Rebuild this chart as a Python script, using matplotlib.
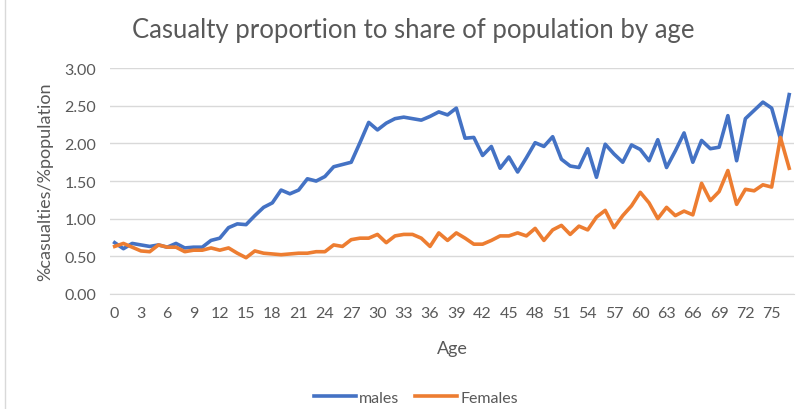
import matplotlib
matplotlib.use("Agg")
import matplotlib.pyplot as plt
from matplotlib.lines import Line2D

# ages 0..77, ratio of casualty share to population share
ages = list(range(78))

males = [0.68, 0.60, 0.67, 0.65, 0.63, 0.65, 0.62, 0.67, 0.61, 0.62,
         0.62, 0.71, 0.74, 0.88, 0.93, 0.92, 1.04, 1.15, 1.21, 1.38,
         1.33, 1.38, 1.53, 1.50, 1.56, 1.69, 1.72, 1.75, 2.01, 2.28,
         2.18, 2.27, 2.33, 2.35, 2.33, 2.31, 2.36, 2.42, 2.38, 2.47,
         2.07, 2.08, 1.84, 1.96, 1.67, 1.82, 1.62, 1.81, 2.01, 1.96,
         2.09, 1.79, 1.70, 1.68, 1.93, 1.55, 1.99, 1.86, 1.75, 1.98,
         1.92, 1.77, 2.05, 1.68, 1.90, 2.14, 1.75, 2.04, 1.93, 1.95,
         2.37, 1.77, 2.33, 2.44, 2.55, 2.47, 2.06, 2.65]

females = [0.63, 0.67, 0.62, 0.57, 0.56, 0.65, 0.62, 0.62, 0.56, 0.58,
           0.58, 0.61, 0.58, 0.61, 0.54, 0.48, 0.57, 0.54, 0.53, 0.52,
           0.53, 0.54, 0.54, 0.56, 0.56, 0.65, 0.63, 0.72, 0.74, 0.74,
           0.79, 0.68, 0.77, 0.79, 0.79, 0.74, 0.63, 0.81, 0.71, 0.81,
           0.74, 0.66, 0.66, 0.71, 0.77, 0.77, 0.81, 0.77, 0.87, 0.71,
           0.85, 0.91, 0.79, 0.90, 0.85, 1.02, 1.11, 0.88, 1.04, 1.17,
           1.35, 1.21, 1.00, 1.15, 1.04, 1.10, 1.05, 1.47, 1.24, 1.36,
           1.64, 1.19, 1.39, 1.37, 1.45, 1.42, 2.08, 1.67]

yticks = [0, 0.5, 1.0, 1.5, 2.0, 2.5, 3.0]

TXT = "#595959"
GRID = "#D9D9D9"
plt.rcParams["font.family"] = ["Lato", "DejaVu Sans"]

fig = plt.figure(figsize=(8.11, 4.10), dpi=100)
ax = fig.add_axes([0.136, 0.281, 0.8425, 0.550])

ax.plot(ages, males, color="#4472C4", lw=2.6, label="males", solid_joinstyle="round")
ax.plot(ages, females, color="#ED7D31", lw=2.6, label="Females", solid_joinstyle="round")

ax.set_xlim(-0.5, 77.5)
ax.set_ylim(0, 3)
ax.set_yticks(yticks)
ax.set_yticklabels([f"{v:.2f}" for v in yticks])
ax.set_xticks(ages[::3])
ax.set_xticklabels([str(a) for a in ages[::3]])
ax.grid(axis="y", color=GRID, lw=1)
ax.set_axisbelow(True)
for s in ["top", "right", "left"]:
    ax.spines[s].set_visible(False)
ax.spines["bottom"].set_color(GRID)
ax.tick_params(axis="both", length=0, labelsize=11.5, labelcolor=TXT)
ax.tick_params(axis="x", pad=9)
ax.tick_params(axis="y", pad=10)

ax.set_xlabel("Age", fontsize=13, color=TXT, labelpad=14)
ax.set_ylabel("%casualties/%population", fontsize=13, color=TXT, labelpad=8)

fig.text(0.51, 0.925, "Casualty proportion to share of population by age",
         ha="center", va="center", fontsize=18.5, color=TXT)

fig.legend(loc="center", bbox_to_anchor=(0.513, 0.028), ncol=2, frameon=False,
           fontsize=11.5, labelcolor=TXT, handlelength=2.6, columnspacing=1.0,
           handletextpad=0.2)

# faint chart-area border at the left edge
fig.add_artist(Line2D([0.006, 0.006], [0, 1], transform=fig.transFigure,
                      color=GRID, lw=1))

fig.savefig("out.png", dpi=100)
